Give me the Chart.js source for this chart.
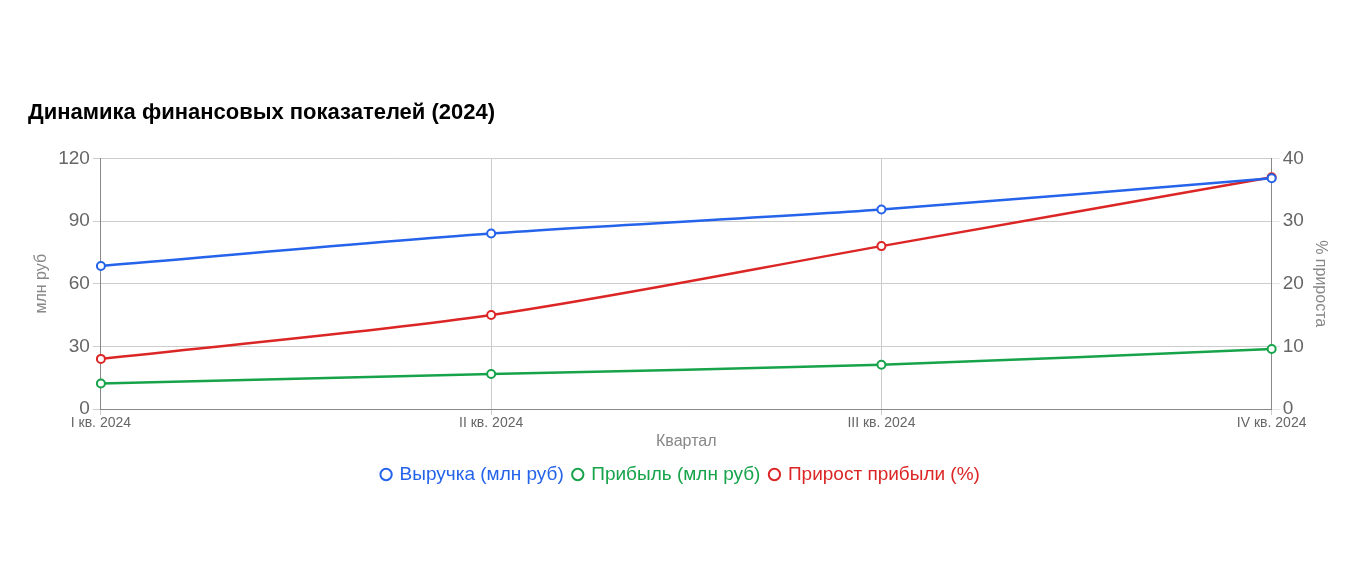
<!DOCTYPE html>
<html>
<head>
<meta charset="utf-8">
<script src="https://cdn.jsdelivr.net/npm/chart.js@4"></script>
<style>
  html, body { margin: 0; padding: 0; background: #fff; }
  #wrap { width: 1360px; height: 586px; }
</style>
</head>
<body>
<div id="wrap"><canvas id="c"></canvas></div>
<script>
const quarters = ['I кв. 2024', 'II кв. 2024', 'III кв. 2024', 'IV кв. 2024'];
const revenue = [68.5, 84, 95.5, 110.5];
const profit = [12.2, 16.8, 21.2, 28.7];
const growth = [8, 15, 26, 37];

Chart.defaults.font.family = '"Liberation Sans", Arial, sans-serif';

const gridDash = { color: '#cccccc', borderDash: [4, 4] };

new Chart(document.getElementById('c'), {
  type: 'line',
  data: {
    labels: quarters,
    datasets: [
      { label: 'Выручка (млн руб)', data: revenue, borderColor: '#2563eb', backgroundColor: '#ffffff', yAxisID: 'y', tension: 0.3, borderWidth: 2.5, pointRadius: 4, pointBorderWidth: 2 },
      { label: 'Прибыль (млн руб)', data: profit, borderColor: '#16a34a', backgroundColor: '#ffffff', yAxisID: 'y', tension: 0.3, borderWidth: 2.5, pointRadius: 4, pointBorderWidth: 2 },
      { label: 'Прирост прибыли (%)', data: growth, borderColor: '#dc2626', backgroundColor: '#ffffff', yAxisID: 'y1', tension: 0.3, borderWidth: 2.5, pointRadius: 4, pointBorderWidth: 2 },
    ],
  },
  options: {
    responsive: true,
    maintainAspectRatio: false,
    animation: false,
    layout: { padding: { left: 28, right: 26, top: 100, bottom: 92 } },
    scales: {
      x: {
        grid: { ...gridDash, tickLength: 6 },
        border: { color: '#888' },
        ticks: { color: '#666', font: { size: 14 }, padding: 0 },
        title: { display: true, text: 'Квартал', color: '#888', font: { size: 16 }, padding: { top: 0 } },
      },
      y: {
        position: 'left',
        min: 0, max: 120,
        ticks: { stepSize: 30, color: '#666', font: { size: 19 } },
        grid: gridDash,
        border: { color: '#888' },
        title: { display: true, text: 'млн руб', color: '#888', font: { size: 16 } },
      },
      y1: {
        position: 'right',
        min: 0, max: 40,
        ticks: { stepSize: 10, color: '#666', font: { size: 19 } },
        grid: { drawOnChartArea: false },
        border: { color: '#888' },
        title: { display: true, text: '% прироста', color: '#888', font: { size: 16 } },
      },
    },
    plugins: {
      title: { display: true, text: 'Динамика финансовых показателей (2024)', align: 'start', color: '#000', font: { size: 22, weight: 'bold' }, padding: { top: 0, bottom: 32 }, fullSize: true },
      legend: {
        position: 'bottom',
        labels: {
          usePointStyle: true, pointStyle: 'circle', boxWidth: 8, boxHeight: 8,
          font: { size: 19 },
          generateLabels: (chart) => Chart.defaults.plugins.legend.labels.generateLabels(chart).map((l) => ({ ...l, fontColor: l.strokeStyle })),
        },
      },
    },
  },
});
</script>
</body>
</html>
